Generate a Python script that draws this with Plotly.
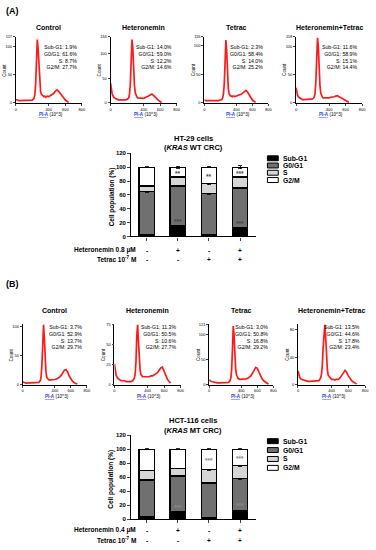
import plotly.graph_objects as go

# ---------------- data ----------------
# FL2-A channel (x10^3) grid for the flow histograms
FL2 = [0, 10, 20, 40, 60, 80, 100, 120, 140, 160, 180, 200, 220, 230, 240, 250, 260, 270,
       280, 290, 300, 310, 320, 330, 340, 350, 360, 380, 400, 420, 440, 460, 480, 500, 520,
       540, 560, 580, 600, 620, 640, 660, 680, 700, 720, 740]
N = None
# (A) HT-29 histograms (counts)
A_CONTROL = [6, 5, 5, 4, 4, 4, 4, 4, 4, 4, 5, 5, 8, 14, 32, 70, 112, 96, 60, 32, 20, 15, 13, 12, 11, 12,
             10, 12, 11, 13, 15, 17, 21, 23, 20, 16, 11, 8, 5, 3, 1, N, N, N, N, N]
A_HET = [40, 28, 18, 11, 8, 7, 6, 6, 5, 6, 6, 7, 10, 18, 40, 85, 128, 110, 65, 35, 20, 14, 12, 10, 10, 9,
         10, 10, 9, 11, 12, 14, 16, 18, 15, 11, 8, 5, 3, 1, N, N, N, N, N, N]
A_TET = [5, 4, 4, 4, 4, 4, 4, 3, 4, 4, 4, 5, 6, 9, 16, 35, 72, 110, 90, 50, 25, 16, 13, 12, 12, 11,
         12, 11, 12, 13, 13, 15, 17, 20, 22, 19, 14, 9, 5, 3, 1, N, N, N, N, N]
A_HETTET = [27, 20, 13, 9, 7, 6, 6, 6, 6, 6, 6, 7, 10, 17, 38, 80, 116, 100, 58, 30, 17, 12, 10, 9, 9, 8,
            9, 8, 9, 10, 10, 11, 12, 13, 11, 10, 8, 6, 4, 2, 1, N, N, N, N, N]
# (B) HCT-116 histograms (counts)
B_CONTROL = [5, 4, 4, 3, 3, 3, 3, 3, 3, 3, 3, 4, 7, 14, 35, 75, 103, 80, 45, 22, 13, 10, 9, 8, 8, 8,
             8, 9, 9, 10, 11, 13, 16, 21, 25, 26, 22, 15, 9, 6, 4, 2, 1, N, N, N]
B_HET = [26, 18, 12, 8, 6, 5, 5, 5, 4, 4, 4, 4, 5, 6, 8, 13, 28, 60, 75, 55, 30, 18, 13, 11, 10, 10,
         10, 10, 10, 10, 11, 11, 12, 13, 15, 18, 21, 22, 17, 11, 7, 4, 2, N, N, N]
B_TET = [10, 8, 7, 6, 5, 5, 4, 4, 4, 4, 4, 4, 4, 4, 5, 6, 8, 14, 30, 70, 118, 100, 60, 32, 20, 15,
         13, 11, 11, 11, 12, 12, 13, 15, 18, 23, 29, 35, 33, 26, 18, 12, 8, 5, 3, 1]
B_HETTET = [20, 15, 11, 8, 7, 6, 6, 5, 5, 5, 5, 5, 5, 5, 6, 6, 8, 10, 15, 28, 55, 80, 88, 70, 40, 22,
            14, 10, 8, 8, 7, 8, 8, 10, 13, 17, 21, 18, 13, 9, 6, 4, 2, 1, N, N]

HIST_TITLES = ["Control", "Heteronemin", "Tetrac", "Heteronemin+Tetrac"]
HIST_A = [A_CONTROL, A_HET, A_TET, A_HETTET]
HIST_B = [B_CONTROL, B_HET, B_TET, B_HETTET]
YMAX_A = [117, 134, 116, 118]
YTICKS_A = [[0, 50, 100, 117], [0, 50, 100, 134], [0, 50, 100, 116], [0, 50, 100, 118]]
YMAX_B = [103, 75, 121, 88]
YTICKS_B = [[0, 50, 100], [0, 25, 50, 75], [0, 50, 100, 121], [0, 40, 80]]
XTICKS = [0, 400, 600, 800]
PHASES = ["Sub-G1", "G0/G1", "S", "G2/M"]
STATS_A = [[1.9, 61.6, 8.7, 27.7], [14.0, 59.0, 12.2, 14.6], [2.3, 58.4, 14.0, 25.2], [11.6, 58.9, 15.1, 14.4]]
STATS_B = [[3.7, 52.9, 13.7, 29.7], [11.3, 50.5, 10.6, 27.7], [3.0, 50.8, 16.8, 29.2], [13.5, 44.6, 17.8, 23.4]]

# stacked bar data (cell population %)
CATS = ["Control", "Heteronemin", "Tetrac", "Heteronemin+Tetrac"]
SUBG1_A = [2, 15, 3, 12]
G0G1_A = [63, 58, 59, 58]
S_A = [8, 13, 14, 16]
G2M_A = [27, 14, 24, 14]
SD_A = [[0.5, 1.5, 0.5, 1.5], [1, 1, 1, 1], [1, 1.5, 1, 1.5], [0.5, 1.5, 0.5, 2]]
SUBG1_B = [3.5, 11, 3, 13]
G0G1_B = [52.5, 51, 49, 45.5]
S_B = [14, 11, 19, 18.5]
G2M_B = [30, 27, 29, 23]
SD_B = [[0.5, 1, 0.5, 1], [1, 1, 1, 1], [1, 1, 1, 1], [0.5, 0.5, 0.5, 0.5]]
SIG_TOP_A = ["", "**", "**", "***"]
SIG_BOT_A = ["", "***", "", "***"]
SIG_TOP_B = ["", "", "***", "***"]
SIG_BOT_B = ["", "***", "", "***"]
HET_ROW = ["-", "+", "-", "+"]
TET_ROW = ["-", "-", "+", "+"]
PHASE_COLORS = ["#000000", "#707070", "#d6d6d6", "#ffffff"]

# ---------------- figure ----------------
W, H = 376, 550
FONT = "Liberation Sans, Arial, sans-serif"


def px(x):
    return x / W


def py(y):
    return 1 - y / H


def note(x, y, text, size, xref="paper", yref="paper", xanchor="center", yanchor="middle",
         color="black", **kw):
    return dict(x=x, y=y, xref=xref, yref=yref, text=text, showarrow=False, xanchor=xanchor,
                yanchor=yanchor, font=dict(size=size, family=FONT, color=color), **kw)


fig = go.Figure()
ann = []
shapes = []
lay = {}

HIST_BOX_A = [(15, 82), (111, 178), (206, 271), (299, 366)]
HIST_BOX_B = [(22, 87), (115, 182), (211, 276), (301, 369)]
groups = [
    (HIST_A, HIST_BOX_A, (34, 101), YMAX_A, YTICKS_A, STATS_A, 25, 39, 0),
    (HIST_B, HIST_BOX_B, (325, 386), YMAX_B, YTICKS_B, STATS_B, 311, 323, 4),
]
for g, (hists, boxes, (ytop, ybot), ymaxs, yticks, stats, title_y, stat_y, off) in enumerate(groups):
    for k in range(4):
        i = off + k + 1
        x0, x1 = boxes[k]
        fig.add_trace(go.Scatter(x=FL2, y=hists[k], mode="lines",
                                 line=dict(color="#ff1a1a", width=1.7), connectgaps=False,
                                 xaxis=f"x{i}", yaxis=f"y{i}", showlegend=False, hoverinfo="skip"))
        lay[f"xaxis{i}"] = dict(domain=[px(x0), px(x1)], anchor=f"y{i}", range=[0, 800],
                                tickvals=XTICKS, ticks="outside", ticklen=2, tickwidth=0.6,
                                showline=True, linecolor="black", linewidth=0.8,
                                showgrid=False, zeroline=False,
                                tickfont=dict(size=4, family=FONT, color="black"))
        lay[f"yaxis{i}"] = dict(domain=[py(ybot), py(ytop)], anchor=f"x{i}", range=[0, ymaxs[k]],
                                tickvals=yticks[k], ticks="outside", ticklen=2, tickwidth=0.6,
                                showline=True, linecolor="black", linewidth=0.8,
                                showgrid=False, zeroline=False,
                                tickfont=dict(size=4, family=FONT, color="black"))
        cx = (x0 + x1) / 2
        ann.append(note(px(cx), py(title_y), f"<b>{HIST_TITLES[k]}</b>", 7))
        txt = "<br>".join(f"{p}: {v:.1f}%" for p, v in zip(PHASES, stats[k]))
        ann.append(note(px(x1 - 3), py(stat_y), txt, 5.2, xanchor="right", yanchor="top",
                        align="right"))
        ann.append(note(px(x0 - 11), py((ytop + ybot) / 2), "Count", 4.6, textangle=-90))
        ann.append(note(px(cx + 2), py(ybot + 12),
                        "<span style='color:#1f3fff'><b><u>PI-A</u></b></span> (10^3)", 4.6))

bar_groups = [
    (9, (152, 236), [SUBG1_A, G0G1_A, S_A, G2M_A], SD_A, SIG_TOP_A, SIG_BOT_A,
     "HT-29 cells", "(<i>KRAS</i> WT CRC)", (137, 146), "Heteronemin 0.8 μM", (250, 259),
     [157, 164.3, 171.6, 179], "#444444"),
    (10, (437, 522), [SUBG1_B, G0G1_B, S_B, G2M_B], SD_B, SIG_TOP_B, SIG_BOT_B,
     "HCT-116 cells", "(<i>KRAS</i> MT CRC)", (422, 432), "Heteronemin 0.4 μM", (533, 543),
     [443, 452, 461, 470], "#8a8a8a"),
]
BX0, BX1 = 132, 258
for (i, (ytop, ybot), segs, sds, sig_top, sig_bot, t1, t2, (ty1, ty2), het_lab, (ry1, ry2),
     leg_y, star_col) in bar_groups:
    for s, (name, vals, sd, col) in enumerate(zip(PHASES, segs, sds, PHASE_COLORS)):
        fig.add_trace(go.Bar(x=CATS, y=vals, name=name, width=0.5, showlegend=False,
                             marker=dict(color=col, line=dict(color="black", width=1.3)),
                             error_y=dict(type="data", array=sd, color="black", thickness=0.8, width=2),
                             xaxis=f"x{i}", yaxis=f"y{i}"))
    lay[f"xaxis{i}"] = dict(domain=[px(BX0), px(BX1)], anchor=f"y{i}", range=[-0.5, 3.5],
                            showticklabels=False, ticks="outside", ticklen=3, tickwidth=1,
                            showline=True, linecolor="black", linewidth=1.2, showgrid=False)
    lay[f"yaxis{i}"] = dict(domain=[py(ybot), py(ytop)], anchor=f"x{i}", range=[0, 120],
                            tickvals=list(range(0, 121, 20)), ticks="outside", ticklen=3, tickwidth=1,
                            showline=True, linecolor="black", linewidth=1.2, showgrid=False,
                            zeroline=False,
                            tickfont=dict(size=6, family=FONT, color="black", weight="bold"))
    # significance marks, positioned from the stacked values
    for j, c in enumerate(CATS):
        sub_top = segs[0][j]
        s_top = segs[0][j] + segs[1][j] + segs[2][j]
        if sig_top[j]:
            ann.append(note(c, (s_top + 100) / 2 - 2, f"<b>{sig_top[j]}</b>", 6.5,
                            xref=f"x{i}", yref=f"y{i}", color=star_col))
        if sig_bot[j]:
            ann.append(note(c, sub_top + 6, f"<b>{sig_bot[j]}</b>", 6.5,
                            xref=f"x{i}", yref=f"y{i}", color=star_col))
        ann.append(note(c, py(ry1), f"<b>{HET_ROW[j]}</b>", 6.5, xref=f"x{i}"))
        ann.append(note(c, py(ry2), f"<b>{TET_ROW[j]}</b>", 6.5, xref=f"x{i}"))
    cx = (BX0 + BX1) / 2
    ann.append(note(px(cx), py(ty1), f"<b>{t1}</b>", 7.5))
    ann.append(note(px(cx), py(ty2), f"<b>{t2}</b>", 7.5))
    ann.append(note(px(112), py((ytop + ybot) / 2 + 2), "<b>Cell population (%)</b>", 6.5,
                    textangle=-90))
    ann.append(note(px(139), py(ry1), f"<b>{het_lab}</b>", 6.5, xanchor="right"))
    ann.append(note(px(139), py(ry2), "<b>Tetrac 10<sup>-7</sup> M</b>", 6.5, xanchor="right"))
    # legend
    for name, col, ly in zip(PHASES, PHASE_COLORS, leg_y):
        shapes.append(dict(type="rect", xref="paper", yref="paper", x0=px(270), x1=px(281),
                           y0=py(ly + 2.5), y1=py(ly - 2.5), fillcolor=col,
                           line=dict(color="black", width=1)))
        ann.append(note(px(284), py(ly), f"<b>{name}</b>", 6.8, xanchor="left"))

for lab, yy in (("(A)", 8), ("(B)", 284)):
    ann.append(note(px(3), py(yy), f"<b>{lab}</b>", 9, xanchor="left"))

fig.update_layout(width=W, height=H, margin=dict(l=0, r=0, t=0, b=0),
                  paper_bgcolor="white", plot_bgcolor="white", barmode="stack", bargap=0.5,
                  annotations=ann, shapes=shapes, showlegend=False,
                  font=dict(family=FONT, color="black"), **lay)
fig.write_html("out.html", config={"displayModeBar": False},
               post_script="document.body.style.margin='0';document.body.style.padding='0';")
